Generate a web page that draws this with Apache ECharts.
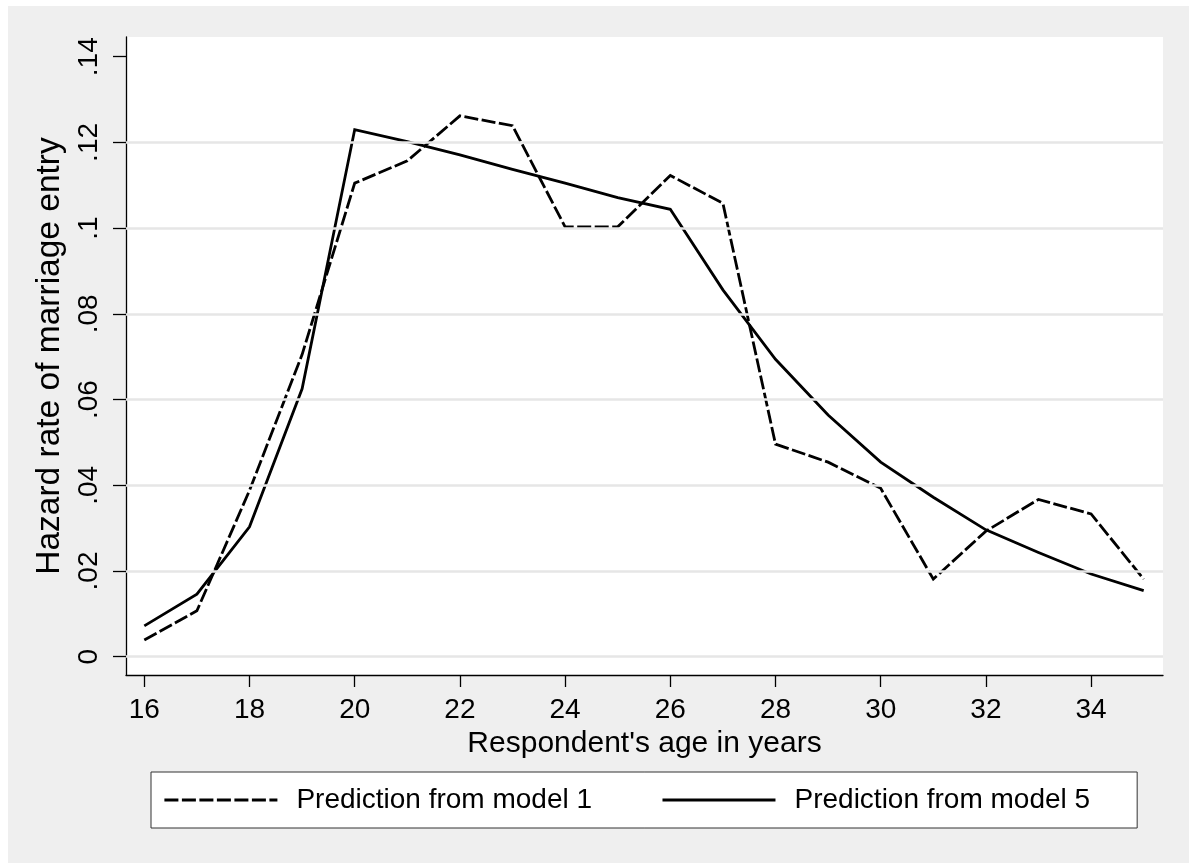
<!DOCTYPE html>
<html>
<head>
<meta charset="utf-8">
<script src="https://cdn.jsdelivr.net/npm/echarts@6/dist/echarts.min.js"></script>
<style>
  html, body { margin: 0; padding: 0; background: #fff; }
  #chart { position: absolute; left: 8px; top: 6px; width: 1181px; height: 857px; }
</style>
</head>
<body>
<div id="chart"></div>
<script>
// ages on the x axis
const ages = [16, 17, 18, 19, 20, 21, 22, 23, 24, 25, 26, 27, 28, 29, 30, 31, 32, 33, 34, 35]
// predicted hazard, model 1 (dashed) and model 5 (solid)
const model1 = [0.0039, 0.0107, 0.0388, 0.0705, 0.1105, 0.1157, 0.1262, 0.1239, 0.1003, 0.1003,
  0.1123, 0.1058, 0.0496, 0.0454, 0.0393, 0.0181, 0.0293, 0.0367, 0.0333, 0.0181]
const model5 = [0.0072, 0.0146, 0.0303, 0.0625, 0.1230, 0.1202, 0.1171, 0.1137, 0.1105, 0.1071,
  0.1044, 0.0856, 0.0694, 0.0564, 0.0454, 0.0372, 0.0296, 0.0243, 0.0193, 0.0154]
const seriesNames = ['Prediction from model 1', 'Prediction from model 5']
const xTicks = [16, 18, 20, 22, 24, 26, 28, 30, 32, 34]
const yTicks = [0, 0.02, 0.04, 0.06, 0.08, 0.1, 0.12, 0.14]
const yGridLines = [0, 0.02, 0.04, 0.06, 0.08, 0.1, 0.12]

const font = 'Liberation Sans, Arial, sans-serif'
const pairs = vals => ages.map((a, i) => [a, vals[i]])

const chart = echarts.init(document.getElementById('chart'))
chart.setOption({
  animation: false,
  backgroundColor: '#efefef',
  textStyle: { fontFamily: font, color: '#000' },
  grid: {
    left: 118,
    right: 26,
    top: 31,
    bottom: 188,
    show: true,
    backgroundColor: '#fff',
    borderWidth: 0
  },
  legend: {
    data: seriesNames,
    left: 143,
    top: 766,
    orient: 'horizontal',
    itemWidth: 113,
    itemHeight: 28,
    itemGap: 69,
    padding: [14, 47, 14, 12],
    backgroundColor: '#fff',
    borderColor: '#333',
    borderWidth: 1,
    borderRadius: 0,
    lineStyle: { width: 2.8 },
    // hide the symbol ECharts puts in the middle of a line icon
    itemStyle: { color: 'rgba(0,0,0,0)', borderWidth: 0, opacity: 0 },
    textStyle: {
      fontFamily: font,
      fontSize: 28,
      lineHeight: 28,
      color: '#000',
      padding: [0, 0, 0, 14]
    }
  },
  xAxis: {
    type: 'value',
    min: 15.652,
    max: 35.367,
    name: "Respondent's age in years",
    nameLocation: 'middle',
    nameGap: 51,
    nameTextStyle: { fontFamily: font, fontSize: 30, color: '#000' },
    axisLine: { show: true, onZero: false, lineStyle: { color: '#000', width: 1.3 } },
    axisTick: { show: true, length: 12, customValues: xTicks, lineStyle: { color: '#000', width: 1.3 } },
    axisLabel: { customValues: xTicks, fontSize: 28, margin: 21, color: '#000', fontFamily: font },
    splitLine: { show: false }
  },
  yAxis: {
    type: 'value',
    min: -0.00427,
    max: 0.1446,
    name: 'Hazard rate of marriage entry',
    nameLocation: 'middle',
    nameGap: 50,
    nameTextStyle: { fontFamily: font, fontSize: 33.5, color: '#000' },
    axisLine: { show: true, onZero: false, lineStyle: { color: '#000', width: 1.3 } },
    axisTick: { show: true, length: 13, customValues: yTicks, lineStyle: { color: '#000', width: 1.3 } },
    axisLabel: {
      customValues: yTicks,
      rotate: 90,
      fontSize: 28,
      margin: 23,
      color: '#000',
      fontFamily: font,
      formatter: v => (v === 0 ? '0' : String(v).replace(/^0/, ''))
    },
    splitLine: { show: false }
  },
  series: [
    {
      // horizontal grid lines
      type: 'line',
      data: [],
      z: 1,
      silent: true,
      markLine: {
        silent: true,
        symbol: ['none', 'none'],
        label: { show: false },
        lineStyle: { color: '#e6e6e6', width: 2.5, type: 'solid' },
        data: yGridLines.map(v => ({ yAxis: v }))
      }
    },
    {
      name: seriesNames[0],
      type: 'line',
      z: 3,
      symbol: 'none',
      showSymbol: false,
      color: '#000',
      lineStyle: { color: '#000', width: 2.8, type: [14, 3.5], join: 'miter' },
      data: pairs(model1)
    },
    {
      name: seriesNames[1],
      type: 'line',
      z: 3,
      symbol: 'none',
      showSymbol: false,
      color: '#000',
      lineStyle: { color: '#000', width: 2.8, type: 'solid', join: 'miter' },
      data: pairs(model5)
    }
  ]
})
</script>
</body>
</html>
